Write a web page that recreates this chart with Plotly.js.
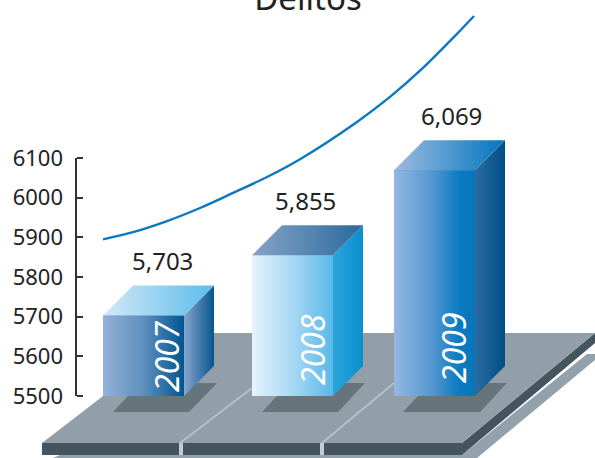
<!DOCTYPE html>
<html><head><meta charset="utf-8">
<script src="https://cdn.plot.ly/plotly-3.0.1.min.js"></script>
<style>html,body{margin:0;padding:0;background:#fff}#c{width:595px;height:458px}</style>
</head><body><div id="c"></div>
<script>
const years = ['2007','2008','2009'];
const delitos = [5703,5855,6069];
const tickValues = [5500,5600,5700,5800,5900,6000,6100];
const trendX = [103,133,167,200,233,267,300,357,390,423,457,474];
const trendY = [5895,5913,5941,5974,6012,6052,6097,6191,6254,6327,6413,6458];

const W=595,H=458,FONT='"Noto Sans",sans-serif';
const pxPerUnit=238/600, yBottomPx=396;
const valueAtPx=p=>5500+(yBottomPx-p)/pxPerUnit;
const barLeft=[103,252,394], barW=81, depthX=30, depthY=30/pxPerUnit;
const base=5500;
const grad=(stops)=>({type:'horizontal',colorscale:stops});
const frontG=[
 [[0,'#93b2d6'],[0.5,'#5f8fbf'],[1,'#00568f']],
 [[0,'#e6f4fc'],[0.5,'#a8d9f4'],[1,'#58b8e8']],
 [[0,'#95b7e0'],[0.5,'#4f94d0'],[0.8,'#0a7cc2'],[1,'#0a74ba']]];
const sideG=[
 [[0,'#86a5cf'],[1,'#07558e']],
 [[0,'#2ba6de'],[1,'#0a8ecd']],
 [[0,'#2b6da2'],[1,'#004e85']]];
const topG=[
 [[0,'#d2e8f8'],[1,'#5cbbea']],
 [[0,'#86a3c8'],[1,'#2b6a9b']],
 [[0,'#9dbbe0'],[1,'#0276bf']]];
const poly=(xs,ys,g)=>({type:'scatter',mode:'lines',x:xs,y:ys,fill:'toself',line:{width:0},fillgradient:grad(g),hoverinfo:'skip',showlegend:false});

const traces=[{type:'bar',x:barLeft.map(l=>l+barW/2),y:delitos.map(v=>v-base),base:base,width:barW,
  marker:{color:['#5f8fbf','#a8d9f4','#4f94d0'],line:{width:0}},hoverinfo:'skip',showlegend:false}];
delitos.forEach((v,i)=>{
  const l=barLeft[i],r=l+barW;
  traces.push(poly([l,r,r,l,l],[base,base,v,v,base],frontG[i]));
  traces.push(poly([r,r+depthX,r+depthX,r,r],[base,base+depthY,v+depthY,v,base],sideG[i]));
  traces.push(poly([l,r,r+depthX,l+depthX,l],[v,v,v+depthY,v+depthY,v],topG[i]));
});
traces.push({type:'scatter',mode:'lines',x:trendX,y:trendY,line:{color:'#0b78c1',width:2.4,shape:'spline',smoothing:1},hoverinfo:'skip',showlegend:false});

const P=pts=>'M'+pts.map(p=>(p[0]/W).toFixed(4)+','+(1-p[1]/H).toFixed(4)).join(' L')+' Z';
const S=(pts,fill)=>({type:'path',xref:'paper',yref:'paper',path:P(pts),fillcolor:fill,line:{width:0},layer:'below'});
const L=(a,b)=>({type:'line',xref:'paper',yref:'paper',x0:a[0]/W,y0:1-a[1]/H,x1:b[0]/W,y1:1-b[1]/H,line:{color:'#b5c0c7',width:2},layer:'below'});
const shapes=[
 S([[53,458],[60,455],[462,455],[587,354],[595,354],[595,360],[477,458]],'#93a1ab'),
 S([[42,443],[462,443],[595,333],[595,343],[462,455],[42,455]],'#45555f'),
 S([[42,443],[185,333],[595,333],[462,443]],'#929fa9'),
 S([[179,443],[183,443],[183,455],[179,455]],'#c3ccd2'),
 S([[320,443],[324,443],[324,455],[320,455]],'#c3ccd2'),
 L([180,443],[252,388]),L([322,443],[394,383]),
 S([[113,412],[189,412],[217,383],[140,383]],'#66747b'),
 S([[262,412],[338,412],[365,383],[289,383]],'#66747b'),
 S([[403,412],[480,412],[507,383],[430,383]],'#66747b'),
 {type:'line',xref:'x',yref:'y',x0:76,x1:76,y0:base,y1:6100,line:{color:'#333',width:2},layer:'above'}
];

const valueCx=[162,305,451], yearCx=[166,312,453], yearCy=[357,350,348];
const annotations=[];
delitos.forEach((v,i)=>{
  annotations.push({xref:'x',yref:'y',x:valueCx[i],y:v+depthY+25/pxPerUnit,text:v.toLocaleString('en-US'),showarrow:false,
    font:{family:FONT,size:24,color:'#222'},xanchor:'center',yanchor:'middle'});
  annotations.push({xref:'x',yref:'y',x:yearCx[i],y:valueAtPx(yearCy[i]),text:'<i>'+years[i]+'</i>',textangle:-90,showarrow:false,
    font:{family:FONT,size:32,color:'#fff'},xanchor:'center',yanchor:'middle'});
});

Plotly.newPlot('c',traces,{
  width:W,height:H,margin:{l:0,r:0,t:0,b:0},paper_bgcolor:'#fff',plot_bgcolor:'rgba(0,0,0,0)',
  showlegend:false,bargap:0,
  title:{text:'Delitos',font:{family:FONT,size:33,color:'#222'},x:308/W,xanchor:'center',xref:'container',y:1-10/H,yref:'container',yanchor:'bottom'},
  xaxis:{range:[0,W],visible:false,fixedrange:true},
  yaxis:{range:[valueAtPx(H),valueAtPx(0)],anchor:'free',position:76/W,side:'left',tickmode:'array',tickvals:tickValues,ticktext:tickValues.map(String),
    showgrid:false,zeroline:false,showline:false,ticks:'inside',ticklen:6,tickwidth:2,tickcolor:'#333',ticklabelstandoff:13,
    tickfont:{family:FONT,size:22,color:'#222'},fixedrange:true},
  shapes,annotations
},{staticPlot:true,displayModeBar:false});
</script></body></html>
